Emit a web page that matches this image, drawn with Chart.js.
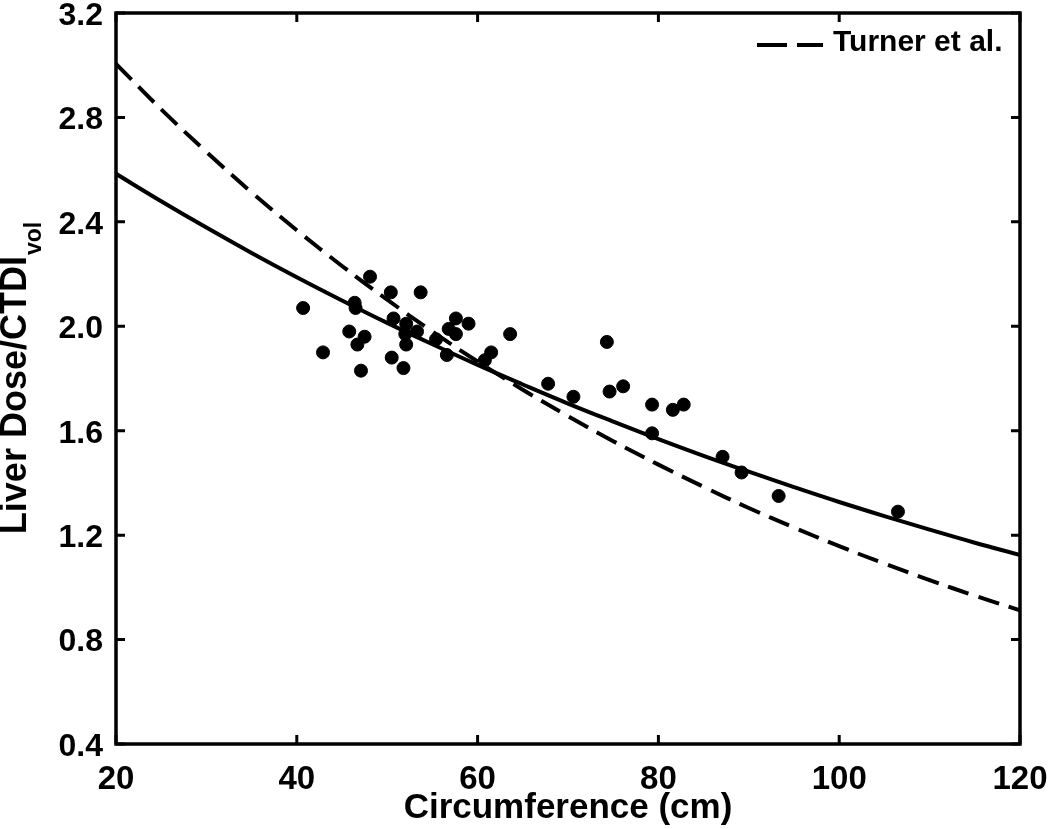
<!DOCTYPE html>
<html>
<head>
<meta charset="utf-8">
<title>Liver dose vs circumference</title>
<script src="https://cdn.jsdelivr.net/npm/chart.js@4/dist/chart.umd.min.js"></script>
<style>
  html, body { margin: 0; padding: 0; background: #fff; }
  #wrap { width: 1050px; height: 829px; }
</style>
</head>
<body>
<div id="wrap"><canvas id="chart" width="1050" height="829"></canvas></div>
<script>
// measured patients (circumference in cm, liver dose / CTDIvol)
const circumference = [40.7, 48.1, 50.4, 53.7, 46.4, 46.5, 50.7, 52.1, 52.0, 53.3,
  57.6, 59.0, 56.8, 57.6, 63.6, 45.8, 47.5, 46.7, 52.1, 42.9,
  50.5, 55.4, 56.6, 61.5, 60.8, 47.1, 51.8, 67.8, 74.3, 74.6,
  76.1, 79.3, 81.6, 82.8, 70.6, 79.3, 87.1, 89.2, 93.3, 106.5];
const doseRatio = [2.07, 2.19, 2.13, 2.13, 2.09, 2.07, 2.03, 2.01, 1.97, 1.98,
  2.03, 2.01, 1.99, 1.97, 1.97, 1.98, 1.96, 1.93, 1.93, 1.90,
  1.88, 1.95, 1.89, 1.90, 1.87, 1.83, 1.84, 1.78, 1.94, 1.75,
  1.77, 1.70, 1.68, 1.70, 1.73, 1.59, 1.50, 1.44, 1.35, 1.29];

// fitted curves
const curveX = [20, 25, 30, 35, 40, 45, 50, 55, 60, 65, 70, 75, 80, 85, 90, 95, 100, 105, 110, 115, 120];
const fitThisWork = [2.584, 2.479, 2.378, 2.281, 2.188, 2.099, 2.013, 1.931, 1.852, 1.777, 1.704,
  1.635, 1.568, 1.504, 1.443, 1.384, 1.327, 1.273, 1.221, 1.171, 1.124];
const fitTurner = [3.005, 2.831, 2.668, 2.513, 2.368, 2.231, 2.102, 1.980, 1.865, 1.757, 1.656,
  1.560, 1.470, 1.385, 1.304, 1.229, 1.158, 1.091, 1.028, 0.968, 0.912];

const xTicks = [20, 40, 60, 80, 100, 120];
const yTicks = [0.4, 0.8, 1.2, 1.6, 2.0, 2.4, 2.8, 3.2];

const FONT = '"Liberation Sans", Arial, Helvetica, sans-serif';

// box, inward ticks, y title with subscript, legend
const matlabLook = {
  id: 'matlabLook',
  afterDraw(chart) {
    const ctx = chart.ctx;
    const a = chart.chartArea;
    const xs = chart.scales.x, ys = chart.scales.y;
    ctx.save();
    ctx.strokeStyle = '#000';
    ctx.lineWidth = 3.5;
    ctx.strokeRect(a.left, a.top, a.right - a.left, a.bottom - a.top);
    ctx.lineWidth = 3;
    const len = 9;
    ctx.beginPath();
    xTicks.forEach(v => {
      const px = xs.getPixelForValue(v);
      ctx.moveTo(px, a.bottom); ctx.lineTo(px, a.bottom - len);
      ctx.moveTo(px, a.top); ctx.lineTo(px, a.top + len);
    });
    yTicks.forEach(v => {
      const py = ys.getPixelForValue(v);
      ctx.moveTo(a.left, py); ctx.lineTo(a.left + len, py);
      ctx.moveTo(a.right, py); ctx.lineTo(a.right - len, py);
    });
    ctx.stroke();

    // y axis title
    ctx.fillStyle = '#000';
    ctx.translate(26, (a.top + a.bottom) / 2);
    ctx.rotate(-Math.PI / 2);
    const main = 'Liver Dose/CTDI';
    ctx.font = 'bold 36px ' + FONT;
    const w1 = ctx.measureText(main).width;
    ctx.font = 'bold 23px ' + FONT;
    const w2 = ctx.measureText('vol').width;
    const start = -(w1 + w2) / 2;
    ctx.textBaseline = 'alphabetic';
    ctx.textAlign = 'left';
    ctx.font = 'bold 36px ' + FONT;
    ctx.fillText(main, start, 0);
    ctx.font = 'bold 23px ' + FONT;
    ctx.fillText('vol', start + w1 + 1, 15);
    ctx.restore();

    // legend for the dashed dataset
    const ds = chart.data.datasets.find(d => d.showInLegend);
    ctx.save();
    ctx.strokeStyle = '#000';
    ctx.lineWidth = 4;
    ctx.setLineDash([30, 10]);
    ctx.beginPath();
    ctx.moveTo(757, 45); ctx.lineTo(823, 45);
    ctx.stroke();
    ctx.fillStyle = '#000';
    ctx.font = 'bold 30px ' + FONT;
    ctx.textBaseline = 'middle';
    ctx.fillText(ds.label, 833, 43);
    ctx.restore();
  }
};

new Chart(document.getElementById('chart'), {
  type: 'scatter',
  data: {
    datasets: [
      {
        label: 'Measured',
        data: circumference.map((c, i) => ({ x: c, y: doseRatio[i] })),
        backgroundColor: '#000',
        borderColor: '#000',
        pointRadius: 6.5,
        pointHoverRadius: 6.5
      },
      {
        label: 'This work',
        type: 'line',
        data: curveX.map((c, i) => ({ x: c, y: fitThisWork[i] })),
        borderColor: '#000',
        borderWidth: 4,
        pointRadius: 0,
        tension: 0.4,
        fill: false
      },
      {
        label: 'Turner et al.',
        showInLegend: true,
        type: 'line',
        data: curveX.map((c, i) => ({ x: c, y: fitTurner[i] })),
        borderColor: '#000',
        borderWidth: 4,
        borderDash: [22, 10],
        pointRadius: 0,
        tension: 0.4,
        fill: false
      }
    ]
  },
  options: {
    responsive: false,
    animation: false,
    layout: { padding: { top: 13, right: 30, left: 0, bottom: 0 } },
    plugins: { legend: { display: false }, tooltip: { enabled: false } },
    scales: {
      x: {
        type: 'linear',
        min: 20, max: 120,
        afterFit(s) { s.height = 85; s.paddingLeft = 0; s.paddingRight = 0; },
        afterBuildTicks(s) { s.ticks = xTicks.map(v => ({ value: v })); },
        grid: { display: false },
        border: { display: false },
        ticks: { color: '#000', padding: 8, font: { family: FONT, size: 33, weight: 'bold' } },
        title: { display: true, text: 'Circumference (cm)', color: '#000', padding: 0,
          font: { family: FONT, size: 35, weight: 'bold' } }
      },
      y: {
        type: 'linear',
        min: 0.4, max: 3.2,
        afterFit(s) { s.width = 116; s.paddingTop = 0; s.paddingBottom = 0; },
        afterBuildTicks(s) { s.ticks = yTicks.map(v => ({ value: v })); },
        grid: { display: false },
        border: { display: false },
        ticks: { color: '#000', padding: 5, labelOffset: 3, callback: v => v.toFixed(1),
          font: { family: FONT, size: 32, weight: 'bold' } }
      }
    }
  },
  plugins: [matlabLook]
});
</script>
</body>
</html>
